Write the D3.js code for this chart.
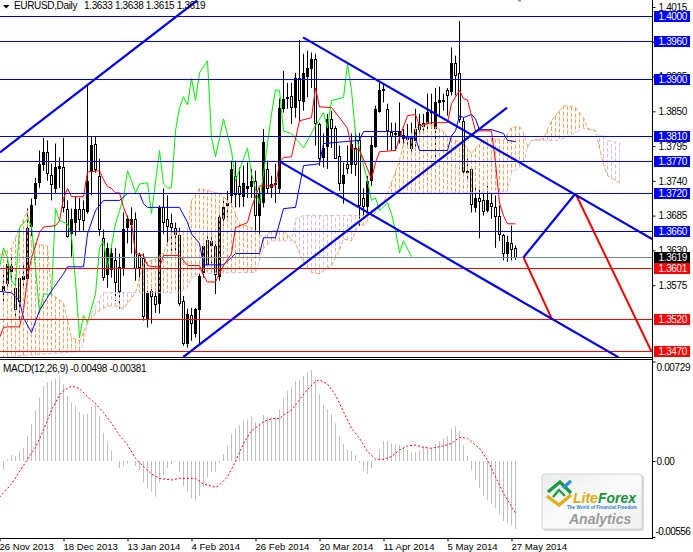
<!DOCTYPE html>
<html><head><meta charset="utf-8">
<script src="https://cdn.jsdelivr.net/npm/d3@7/dist/d3.min.js"></script>
<style>
html,body{margin:0;padding:0;background:#fff;overflow:hidden}
svg{display:block}
text{font-family:"Liberation Sans",Arial,sans-serif;font-size:10px;fill:#000;letter-spacing:-0.35px}
</style></head><body><svg id="c" width="693" height="552"></svg>
<script>
const opens=[1.3568,1.3579,1.3598,1.3571,1.3587,1.3585,1.3587,1.3667,1.3713,1.3739,1.3766,1.3785,1.3750,1.3729,1.3761,1.3762,1.3696,1.3658,1.3675,1.3696,1.3696,1.3693,1.3756,1.3799,1.3747,1.3649,1.3593,1.3601,1.3614,1.3604,1.3603,1.3667,1.3672,1.3680,1.3622,1.3618,1.3522,1.3566,1.3558,1.3546,1.3698,1.3680,1.3674,1.3666,1.3655,1.3550,1.3484,1.3527,1.3500,1.3538,1.3595,1.3647,1.3639,1.3637,1.3588,1.3680,1.3702,1.3717,1.3748,1.3732,1.3717,1.3729,1.3731,1.3739,1.3685,1.3707,1.3759,1.3731,1.3735,1.3729,1.3856,1.3872,1.3875,1.3857,1.3902,1.3867,1.3906,1.3917,1.3932,1.3830,1.3777,1.3796,1.3838,1.3824,1.3780,1.3737,1.3767,1.3767,1.3792,1.3804,1.3713,1.3701,1.3740,1.3796,1.3851,1.3884,1.3853,1.3818,1.3813,1.3811,1.3813,1.3811,1.3791,1.3804,1.3830,1.3832,1.3832,1.3849,1.3824,1.3865,1.3867,1.3883,1.3883,1.3927,1.3910,1.3835,1.3756,1.3758,1.3699,1.3713,1.3709,1.3693,1.3705,1.3699,1.3685,1.3655,1.3626,1.3642,1.3633];
const highs=[1.3598,1.3614,1.3622,1.3590,1.3588,1.3609,1.3696,1.3712,1.3745,1.3788,1.3808,1.3804,1.3767,1.3799,1.3777,1.3808,1.3709,1.3696,1.3715,1.3713,1.3709,1.3891,1.3811,1.3811,1.3775,1.3663,1.3642,1.3634,1.3634,1.3625,1.3690,1.3685,1.3698,1.3690,1.3626,1.3625,1.3566,1.3569,1.3565,1.3701,1.3728,1.3717,1.3688,1.3674,1.3666,1.3558,1.3538,1.3539,1.3539,1.3593,1.3641,1.3653,1.3658,1.3642,1.3688,1.3709,1.3724,1.3772,1.3772,1.3761,1.3764,1.3769,1.3759,1.3756,1.3729,1.3822,1.3772,1.3748,1.3767,1.3870,1.3914,1.3895,1.3895,1.3911,1.3963,1.3941,1.3946,1.3943,1.3941,1.3832,1.3815,1.3846,1.3851,1.3827,1.3796,1.3769,1.3796,1.3815,1.3819,1.3816,1.3728,1.3748,1.3811,1.3859,1.3898,1.3894,1.3862,1.3832,1.3832,1.3864,1.3822,1.3830,1.3832,1.3854,1.3846,1.3846,1.3878,1.3878,1.3887,1.3889,1.3878,1.3887,1.3951,1.3938,1.3993,1.3840,1.3775,1.3761,1.3732,1.3732,1.3721,1.3732,1.3721,1.3717,1.3701,1.3656,1.3653,1.3669,1.3638];
const lows=[1.3550,1.3571,1.3582,1.3525,1.3522,1.3571,1.3582,1.3653,1.3701,1.3729,1.3756,1.3740,1.3709,1.3721,1.3729,1.3690,1.3650,1.3620,1.3653,1.3661,1.3661,1.3688,1.3717,1.3753,1.3653,1.3582,1.3571,1.3587,1.3550,1.3538,1.3590,1.3641,1.3625,1.3582,1.3582,1.3519,1.3508,1.3514,1.3531,1.3530,1.3656,1.3642,1.3625,1.3625,1.3542,1.3479,1.3476,1.3487,1.3492,1.3482,1.3587,1.3606,1.3609,1.3561,1.3582,1.3669,1.3682,1.3704,1.3698,1.3698,1.3699,1.3713,1.3713,1.3661,1.3650,1.3698,1.3720,1.3713,1.3705,1.3720,1.3848,1.3854,1.3830,1.3840,1.3835,1.3851,1.3872,1.3887,1.3796,1.3764,1.3761,1.3759,1.3792,1.3775,1.3724,1.3704,1.3751,1.3751,1.3748,1.3669,1.3685,1.3690,1.3732,1.3792,1.3848,1.3864,1.3788,1.3788,1.3788,1.3799,1.3796,1.3792,1.3785,1.3788,1.3811,1.3819,1.3819,1.3822,1.3775,1.3843,1.3851,1.3843,1.3875,1.3875,1.3832,1.3748,1.3743,1.3690,1.3690,1.3649,1.3685,1.3690,1.3680,1.3634,1.3645,1.3614,1.3612,1.3614,1.3615];
const closes=[1.3574,1.3609,1.3606,1.3538,1.3550,1.3590,1.3666,1.3701,1.3737,1.3767,1.3785,1.3751,1.3735,1.3762,1.3764,1.3698,1.3653,1.3680,1.3696,1.3680,1.3679,1.3740,1.3797,1.3759,1.3663,1.3587,1.3634,1.3626,1.3579,1.3566,1.3664,1.3680,1.3680,1.3603,1.3603,1.3527,1.3563,1.3558,1.3546,1.3698,1.3674,1.3669,1.3667,1.3656,1.3547,1.3484,1.3530,1.3514,1.3538,1.3590,1.3637,1.3609,1.3645,1.3593,1.3682,1.3698,1.3705,1.3758,1.3720,1.3720,1.3737,1.3732,1.3739,1.3685,1.3720,1.3802,1.3729,1.3735,1.3737,1.3856,1.3870,1.3873,1.3857,1.3903,1.3867,1.3911,1.3919,1.3932,1.3830,1.3777,1.3792,1.3838,1.3824,1.3777,1.3737,1.3750,1.3761,1.3799,1.3767,1.3701,1.3701,1.3740,1.3796,1.3854,1.3884,1.3886,1.3819,1.3811,1.3815,1.3819,1.3808,1.3807,1.3807,1.3822,1.3822,1.3827,1.3849,1.3851,1.3865,1.3868,1.3868,1.3875,1.3927,1.3908,1.3838,1.3756,1.3755,1.3702,1.3713,1.3709,1.3691,1.3709,1.3701,1.3685,1.3656,1.3626,1.3644,1.3633,1.3619];

const tenkanAt=[-1,0,1,4,5,6,7,9,10,13,14,15,16,17,20,21,24,25,26,27,28,29,30,31,32,33,35,36,39,40,44,46,49,50,51,53,55,57,58,61,62,64,68,69,70,72,74,77,78,79,82,84,86,87,89,91,92,93,94,98,99,101,103,104,107,111,112,114,115,116,117,118,122,123,124,125,126,128];
const tenkanVal=[1.3492,1.3508,1.3509,1.3509,1.3535,1.3587,1.3618,1.3658,1.3667,1.3669,1.3677,1.3712,1.3728,1.3715,1.3715,1.3754,1.3756,1.3742,1.3731,1.3728,1.3721,1.3721,1.3698,1.3682,1.3674,1.3625,1.3622,1.3606,1.3603,1.3622,1.3622,1.3606,1.3606,1.3590,1.3580,1.3580,1.3606,1.3625,1.3666,1.3674,1.3698,1.3732,1.3732,1.3769,1.3777,1.3778,1.3835,1.3840,1.3887,1.3857,1.3856,1.3840,1.3823,1.3791,1.3789,1.3759,1.3743,1.3769,1.3786,1.3788,1.3808,1.3843,1.3845,1.3827,1.3832,1.3832,1.3862,1.3883,1.3870,1.3868,1.3843,1.3819,1.3819,1.3769,1.3705,1.3685,1.3672,1.3672];
const kijunAt=[-1,2,4,5,7,9,12,15,16,20,21,23,25,29,31,34,35,36,44,46,47,49,50,55,58,64,65,68,70,73,75,79,80,89,90,99,100,103,104,111,112,113,114,115,117,118,119,122,125,126,128];
const kijunVal=[1.3565,1.3563,1.3550,1.3523,1.3500,1.3535,1.3566,1.3593,1.3604,1.3604,1.3656,1.3693,1.3709,1.3709,1.3720,1.3720,1.3704,1.3698,1.3698,1.3674,1.3656,1.3641,1.3607,1.3607,1.3625,1.3625,1.3650,1.3650,1.3696,1.3698,1.3764,1.3767,1.3799,1.3804,1.3818,1.3818,1.3808,1.3808,1.3788,1.3788,1.3811,1.3819,1.3843,1.3840,1.3845,1.3838,1.3821,1.3821,1.3815,1.3804,1.3802];
const chikouAt=[-1,0,1,2,3,4,6,7,8,9,10,12,13,14,16,17,18,19,20,21,23,24,25,26,28,30,31,32,33,34,36,37,39,40,41,42,43,44,45,46,47,48,49,51,52,53,55,57,58,61,62,64,67,68,69,70,72,75,78,80,81,82,85,86,87,88,91,92,93,94,96,97,98,99,100,102];
const chikouVal=[1.3603,1.3634,1.3618,1.3582,1.3574,1.3666,1.3680,1.3669,1.3603,1.3531,1.3561,1.3561,1.3696,1.3677,1.3672,1.3653,1.3582,1.3492,1.3527,1.3516,1.3561,1.3634,1.3645,1.3603,1.3672,1.3713,1.3756,1.3740,1.3721,1.3735,1.3737,1.3688,1.3788,1.3735,1.3729,1.3729,1.3819,1.3856,1.3873,1.3860,1.3902,1.3867,1.3911,1.3930,1.3808,1.3778,1.3838,1.3788,1.3740,1.3792,1.3751,1.3704,1.3846,1.3884,1.3883,1.3819,1.3815,1.3792,1.3827,1.3848,1.3824,1.3867,1.3872,1.3925,1.3883,1.3815,1.3740,1.3709,1.3713,1.3693,1.3705,1.3688,1.3661,1.3626,1.3645,1.3620];
const spanAAt=[-1,2,3,6,7,11,12,15,17,19,21,23,26,28,30,33,34,35,38,40,42,46,47,49,54,57,59,62,65,67,70,73,75,77,79,82,84,85,87,89,90,95,96,97,99,100,103,106,110,111,115,117,118,120,122,125,127,129,130,131,132,135,137,140,143,145,146,148,149,150,151,154];
const spanAVal=[1.3622,1.3634,1.3650,1.3693,1.3641,1.3637,1.3561,1.3547,1.3492,1.3487,1.3514,1.3531,1.3542,1.3542,1.3538,1.3563,1.3587,1.3609,1.3617,1.3626,1.3658,1.3661,1.3709,1.3728,1.3720,1.3704,1.3672,1.3666,1.3650,1.3661,1.3661,1.3641,1.3611,1.3595,1.3593,1.3606,1.3630,1.3648,1.3645,1.3674,1.3669,1.3704,1.3721,1.3737,1.3772,1.3799,1.3823,1.3832,1.3819,1.3808,1.3800,1.3783,1.3792,1.3804,1.3807,1.3804,1.3824,1.3826,1.3815,1.3796,1.3804,1.3807,1.3835,1.3859,1.3856,1.3840,1.3823,1.3819,1.3792,1.3767,1.3748,1.3737];
const spanBAt=[-1,3,19,20,21,23,25,44,46,47,49,57,63,65,67,72,73,75,90,95,96,123,126,127,130,131,132,139,145,148,149,150,151,154];
const spanBVal=[1.3460,1.3463,1.3470,1.3482,1.3519,1.3542,1.3563,1.3563,1.3571,1.3587,1.3593,1.3595,1.3595,1.3633,1.3645,1.3645,1.3680,1.3685,1.3685,1.3704,1.3721,1.3721,1.3724,1.3753,1.3766,1.3792,1.3804,1.3804,1.3823,1.3819,1.3812,1.3812,1.3804,1.3800];

const macdHist=[-0.00061,0.00012,0.00044,0.00037,0.00073,0.00098,0.00183,0.00271,0.00373,0.00464,0.00549,0.00576,0.00588,0.00603,0.00612,0.00564,0.00476,0.00427,0.00403,0.00361,0.00337,0.00344,0.00398,0.00415,0.00329,0.00207,0.00142,0.00073,0,-0.00054,-0.00037,-0.00017,-0.00005,-0.00037,-0.00066,-0.00159,-0.00200,-0.00224,-0.00261,-0.00159,-0.00102,-0.00054,-0.00022,-0.00005,-0.00078,-0.00183,-0.00224,-0.00273,-0.00290,-0.00256,-0.00188,-0.00120,-0.00078,-0.00078,-0.00012,0.00051,0.00110,0.00198,0.00239,0.00264,0.00295,0.00305,0.00325,0.00285,0.00276,0.00337,0.00320,0.00325,0.00320,0.00378,0.00464,0.00515,0.00544,0.00586,0.00593,0.00625,0.00649,0.00666,0.00598,0.00490,0.00410,0.00378,0.00344,0.00276,0.00183,0.00124,0.00081,0.00073,0.00044,-0.00012,-0.00071,-0.00095,-0.00054,0.00007,0.00085,0.00146,0.00146,0.00129,0.00122,0.00117,0.00100,0.00081,0.00063,0.00063,0.00081,0.00105,0.00100,0.00098,0.00124,0.00146,0.00161,0.00183,0.00232,0.00256,0.00222,0.00117,0.00037,-0.00066,-0.00139,-0.00200,-0.00256,-0.00285,-0.00315,-0.00342,-0.00388,-0.00439,-0.00456,-0.00473,-0.00498];
const signalAt=[-1,2,4,6,8,10,12,14,15,17,19,21,23,25,27,29,31,33,35,37,39,42,44,48,50,53,54,56,58,60,62,64,65,67,69,70,72,74,76,78,79,81,83,85,87,89,91,93,95,97,99,101,103,105,107,110,112,114,116,119,121,123,125,127,128];
const signalVal=[-0.00266,-0.00168,-0.00078,0.00012,0.00100,0.00227,0.00373,0.00483,0.00515,0.00549,0.00532,0.00471,0.00422,0.00354,0.00276,0.00190,0.00117,0.00020,-0.00041,-0.00095,-0.00127,-0.00139,-0.00127,-0.00127,-0.00168,-0.00193,-0.00176,-0.00115,-0.00005,0.00129,0.00222,0.00264,0.00288,0.00310,0.00312,0.00337,0.00373,0.00447,0.00525,0.00581,0.00593,0.00564,0.00483,0.00361,0.00239,0.00166,0.00068,0.00015,0.00012,0.00032,0.00081,0.00110,0.00117,0.00100,0.00093,0.00110,0.00129,0.00173,0.00166,0.00093,0.00007,-0.00115,-0.00237,-0.00334,-0.00381];

const priceTicks=[1.4015,1.3960,1.3905,1.3850,1.3795,1.3740,1.3685,1.3630,1.3575];
const blueLevels=[1.4000,1.3960,1.3900,1.3810,1.3770,1.3720,1.3660];
const redLevels=[1.3601,1.3520,1.3470];
const bidLevel=[1.3619];
const dateIdx=[-1,15,31,47,63,79,95,111,127];
const dateLabels=["26 Nov 2013","18 Dec 2013","13 Jan 2014","4 Feb 2014","26 Feb 2014","20 Mar 2014","11 Apr 2014","5 May 2014","27 May 2014"];
const macdTicks=[0.00729,0,-0.00556];
const macdTickLabels=["0.00729","0.00","-0.00556"];
const blueTrends=[[[-0.875,1.3785],[48.4,1.40253]],[[44.9,1.3461],[125.9,1.3856]],[[74.9,1.3967],[162.4,1.3647]],[[69.2,1.3770],[153.7,1.3461]],[[130,1.3619],[143,1.3720]]];
const redTrends=[[[130,1.3619],[137.2,1.3520]],[[143,1.3720],[162,1.3470]]];

const BLUE="#0000e6",RED="#ff0000",SAND="#f4a460",THIS="#d8bfd8";
const FONT='"Liberation Sans",Arial,sans-serif';
const svg=d3.select("#c");
const x=d3.scaleLinear().domain([0,128]).range([3.5,515.5]);
const y=d3.scaleLinear().domain([1.4,1.347]).range([16.5,351.5]);
const ym=d3.scaleLinear().domain([0,-0.00498]).range([461,529]);
const snap=v=>Math.floor(v)+0.5;

svg.append("defs").append("clipPath").attr("id","mc").append("rect").attr("width",652).attr("height",357);
const main=svg.append("g").attr("clip-path","url(#mc)");

// candles
const idx=d3.range(opens.length);
const cg=main.append("g");
cg.selectAll("line").data(idx).join("line")
 .attr("x1",i=>x(i)).attr("x2",i=>x(i))
 .attr("y1",i=>y(highs[i])).attr("y2",i=>y(lows[i]))
 .attr("stroke","#000").attr("stroke-width",1);
cg.selectAll("rect").data(idx).join("rect")
 .attr("x",i=>x(i)-1).attr("width",2)
 .attr("y",i=>Math.round(y(Math.max(opens[i],closes[i])))+0.5)
 .attr("height",i=>Math.max(0.01,Math.round(Math.abs(y(opens[i])-y(closes[i])))))
 .attr("fill",i=>closes[i]>=opens[i]?"#000":"#fff")
 .attr("stroke","#000").attr("stroke-width",1);

// cloud
const spanA=d3.scaleLinear().domain(spanAAt).range(spanAVal);
const spanB=d3.scaleLinear().domain(spanBAt).range(spanBVal);
const cols=d3.range(-1,155);
main.append("g").selectAll("line").data(cols).join("line")
 .attr("x1",i=>x(i)).attr("x2",i=>x(i))
 .attr("y1",i=>y(spanA(i))).attr("y2",i=>y(spanB(i)))
 .attr("stroke",i=>spanA(i)>spanB(i)?SAND:THIS)
 .attr("stroke-width",1).attr("stroke-dasharray","4,2");
function lineFrom(at,val,color,w,dash){
 const l=d3.line().x(d=>x(d[0])).y(d=>y(d[1]));
 const p=main.append("path").datum(d3.zip(at,val)).attr("d",l).attr("fill","none")
  .attr("stroke",color).attr("stroke-width",w);
 if(dash)p.attr("stroke-dasharray",dash);
 return p;
}
lineFrom(spanBAt,spanBVal,THIS,1,"4,2");
lineFrom(spanAAt,spanAVal,SAND,1,"4,2");
lineFrom(chikouAt,chikouVal,"#00ee00",1);
lineFrom(kijunAt,kijunVal,"#0000ff",1);
lineFrom(tenkanAt,tenkanVal,RED,1);

// level lines
const lev=main.append("g");
function hl(levels,color){
 lev.selectAll(null).data(levels).join("line")
  .attr("x1",0).attr("x2",652).attr("y1",d=>snap(y(d))).attr("y2",d=>snap(y(d)))
  .attr("stroke",color).attr("stroke-width",1);
}
hl(bidLevel,"#778899");hl(blueLevels,BLUE);hl(redLevels,RED);

// trend lines
const tl=d3.line().x(d=>x(d[0])).y(d=>y(d[1]));
main.append("g").selectAll("path").data(redTrends).join("path").attr("d",tl).attr("fill","none").attr("stroke","#f00000").attr("stroke-width",2);
main.append("g").selectAll("path").data(blueTrends).join("path").attr("d",tl).attr("fill","none").attr("stroke",BLUE).attr("stroke-width",2.2);

// header
svg.append("path").attr("d",d3.line()([[3,5],[9.5,5],[6.2,8.5]])+"Z").attr("fill","#000");
svg.append("text").attr("x",14).attr("y",8.5).text("EURUSD,Daily");
svg.append("text").attr("x",84).attr("y",8.5).text("1.3633 1.3638 1.3615 1.3619");
svg.append("rect").attr("x",518).attr("y",0).attr("width",3).attr("height",1.5).attr("fill","#8a97a5");

// macd
svg.append("g").selectAll("line").data(idx).join("line")
 .attr("x1",i=>x(i)).attr("x2",i=>x(i)).attr("y1",ym(0)).attr("y2",i=>ym(macdHist[i]))
 .attr("stroke","#c0c0c0").attr("stroke-width",1);
svg.append("path").datum(d3.zip(signalAt,signalVal))
 .attr("d",d3.line().x(d=>x(d[0])).y(d=>ym(d[1]))).attr("fill","none")
 .attr("stroke",RED).attr("stroke-width",1).attr("stroke-dasharray","2,2");
svg.append("text").attr("x",3).attr("y",371.5).text("MACD(12,26,9) -0.00498 -0.00381");

// axes & frame
const frame=svg.append("g").attr("stroke","#000").attr("stroke-width",1);
frame.append("line").attr("x1",652.5).attr("x2",652.5).attr("y1",0).attr("y2",538.5);
frame.append("line").attr("x1",0).attr("x2",653).attr("y1",357.5).attr("y2",357.5);
frame.append("line").attr("x1",0).attr("x2",653).attr("y1",359.5).attr("y2",359.5);
frame.append("line").attr("x1",0).attr("x2",653).attr("y1",538.5).attr("y2",538.5);

const pa=svg.append("g").attr("transform","translate(652.5,0)")
 .call(d3.axisRight(y).tickValues(priceTicks).tickSize(3).tickFormat(d3.format(".4f")));
pa.select(".domain").remove();
pa.selectAll("text").attr("x",6).style("font-size","10px").style("font-family",FONT);

const ma=svg.append("g").attr("transform","translate(652.5,0)")
 .call(d3.axisRight(ym).tickValues(macdTicks).tickSize(3).tickFormat((d,i)=>macdTickLabels[i]));
ma.select(".domain").remove();
ma.selectAll("text").attr("x",4).style("font-size","10px").style("font-family",FONT);
ma.selectAll(".tick text").filter(d=>d===0.00729).attr("y",5.5);
ma.selectAll(".tick text").filter(d=>d===-0.00556).attr("x",3).attr("y",-6).style("letter-spacing","-0.6px");

const da=svg.append("g").attr("transform","translate(0,538.5)")
 .call(d3.axisBottom(x).tickValues(dateIdx).tickSize(3).tickFormat((d,i)=>dateLabels[i]));
da.select(".domain").remove();
da.selectAll("text").attr("text-anchor","start").attr("x",-0.5).attr("y",5).style("font-size","9.6px").style("font-family",FONT).style("letter-spacing","0");

// level labels
function labels(levels,color){
 const g=svg.append("g");
 g.selectAll("rect").data(levels).join("rect").attr("x",654).attr("width",36).attr("height",11)
  .attr("y",d=>snap(y(d))-5.5).attr("fill",color);
 g.selectAll("text").data(levels).join("text").attr("x",658.5).attr("y",d=>snap(y(d))+3.5)
  .style("fill","#fff").text(d=>d3.format(".4f")(d));
}
labels(blueLevels,"#0000ff");labels(redLevels,"#ff0000");labels(bidLevel,"#000000");

// logo
const defs=svg.select("defs");
const gr=defs.append("linearGradient").attr("id","lg").attr("x1",0).attr("y1",0).attr("x2",1).attr("y2",1);
gr.append("stop").attr("offset",0).attr("stop-color","#e9ecec");
gr.append("stop").attr("offset",.5).attr("stop-color","#fbfbfb");
gr.append("stop").attr("offset",1).attr("stop-color","#f0f0f0");
const logo=svg.append("g");
logo.append("rect").attr("x",543).attr("y",475).attr("width",101).attr("height",56).attr("rx",3).attr("fill","#d8d8d8");
logo.append("rect").attr("x",542).attr("y",474).attr("width",100).attr("height",55).attr("rx",3).attr("fill","url(#lg)").attr("stroke","#d5d5d5");
const lp=d3.line();
logo.append("path").attr("d",lp([[547,496],[559,505],[571,495]])).attr("fill","none").attr("stroke","#e0ae16").attr("stroke-width",3.4);
logo.append("path").attr("d",lp([[548,492],[560,482],[571,493]])).attr("fill","none").attr("stroke","#1e9a3c").attr("stroke-width",3.4);
logo.append("path").attr("d",lp([[553,497],[559,490],[565,496]])).attr("fill","none").attr("stroke","#1e9a3c").attr("stroke-width",2.4);
logo.append("path").attr("d",lp([[563,488],[571,481]])).attr("fill","none").attr("stroke","#2a93d5").attr("stroke-width",3.4);
const lt=logo.append("text").attr("x",573).attr("y",503).style("font-size","14px").style("font-weight","bold").style("font-style","italic").style("letter-spacing","0");
lt.append("tspan").style("fill","#dfa910").text("Lite");
lt.append("tspan").style("fill","#1e8f3a").text("Forex");
logo.append("text").attr("x",567).attr("y",509).style("font-size","4.6px").style("font-weight","bold").style("letter-spacing","0").style("fill","#2b7fc9").text("The World of Financial Freedom");
logo.append("text").attr("x",569).attr("y",524).style("font-size","14px").style("font-weight","bold").style("font-style","italic").style("letter-spacing","0").style("fill","#9a9a9a").text("Analytics");
</script></body></html>
